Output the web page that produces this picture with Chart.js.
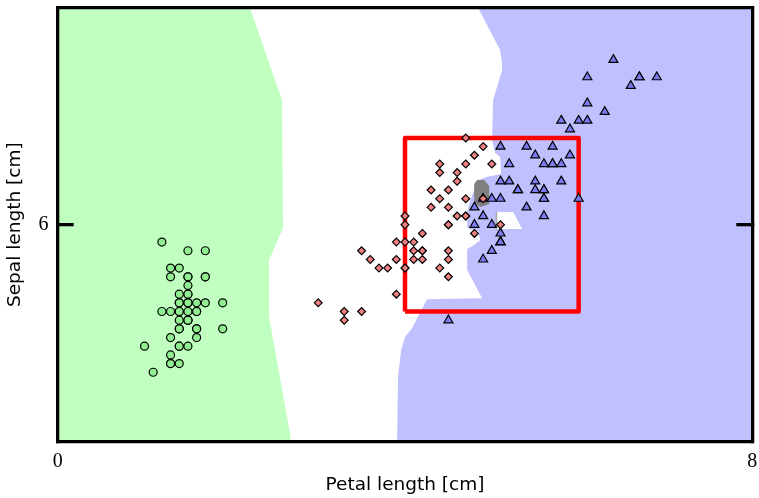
<!DOCTYPE html>
<html>
<head>
<meta charset="utf-8">
<script src="https://cdn.jsdelivr.net/npm/chart.js@4.4.1/dist/chart.umd.min.js"></script>
<style>
  html, body { margin: 0; padding: 0; background: #fff; }
</style>
</head>
<body>
<canvas id="irisChart" width="759" height="498"></canvas>
<script>
// Iris: petal length (x) against sepal length (y), cm
const setosaPetal = [1.4,1.4,1.3,1.5,1.4,1.7,1.4,1.5,1.4,1.5,1.5,1.6,1.4,1.1,1.2,1.5,1.3,1.4,1.7,1.5,1.7,1.5,1.0,1.7,1.9,1.6,1.6,1.5,1.4,1.6,1.6,1.5,1.5,1.4,1.5,1.2,1.3,1.5,1.3,1.5,1.3,1.3,1.3,1.6,1.9,1.4,1.6,1.4,1.5,1.4];
const setosaSepal = [5.1,4.9,4.7,4.6,5.0,5.4,4.6,5.0,4.4,4.9,5.4,4.8,4.8,4.3,5.8,5.7,5.4,5.1,5.7,5.1,5.4,5.1,4.6,5.1,4.8,5.0,5.0,5.2,5.2,4.7,4.8,5.4,5.2,5.5,4.9,5.0,5.5,4.9,4.4,5.1,5.0,4.5,4.4,5.0,5.1,4.8,5.1,4.6,5.3,5.0];

const versicolorPetal = [4.7,4.5,4.9,4.0,4.6,4.5,4.7,3.3,4.6,3.9,3.5,4.2,4.0,4.7,3.6,4.4,4.5,4.1,4.5,3.9,4.8,4.0,4.9,4.7,4.3,4.4,4.8,5.0,4.5,3.5,3.8,3.7,3.9,5.1,4.5,4.5,4.7,4.4,4.1,4.0,4.4,4.6,4.0,3.3,4.2,4.2,4.2,4.3,3.0,4.1];
const versicolorSepal = [7.0,6.4,6.9,5.5,6.5,5.7,6.3,4.9,6.6,5.2,5.0,5.9,6.0,6.1,5.6,6.7,5.6,5.8,6.2,5.6,5.9,6.1,6.3,6.1,6.4,6.6,6.8,6.7,6.0,5.7,5.5,5.5,5.8,6.0,5.4,6.0,6.7,6.3,5.6,5.5,5.5,6.1,5.8,5.0,5.6,5.7,5.7,6.2,5.1,5.7];

const virginicaPetal = [6.0,5.1,5.9,5.6,5.8,6.6,4.5,6.3,5.8,6.1,5.1,5.3,5.5,5.0,5.1,5.3,5.5,6.7,6.9,5.0,5.7,4.9,6.7,4.9,5.7,6.0,4.8,4.9,5.6,5.8,6.1,6.4,5.6,5.1,5.6,6.1,5.6,5.5,4.8,5.4,5.6,5.1,5.1,5.9,5.7,5.2,5.0,5.2,5.4,5.1];
const virginicaSepal = [6.3,5.8,7.1,6.3,6.5,7.6,4.9,7.3,6.7,7.2,6.5,6.4,6.8,5.7,5.8,6.4,6.5,7.7,7.7,6.0,6.9,5.6,7.7,6.3,6.7,7.2,6.2,6.1,6.4,7.2,7.4,7.9,6.4,6.3,6.1,7.7,6.3,6.4,6.0,6.9,6.7,6.9,5.8,6.8,6.7,6.7,6.3,6.5,6.2,5.9];

// decision regions, outlines (data units)
const greenRegionX = [0, 0, 2.215, 2.583, 2.595, 2.434, 2.434, 2.675, 2.687];
const greenRegionY = [3.5, 8.5, 8.5, 7.436, 5.962, 5.593, 4.937, 3.600, 3.5];

const blueRegionX = [3.909, 3.920, 3.955, 4.000, 4.081, 4.254, 4.888, 4.716, 4.716, 4.796, 4.865, 4.842, 4.750, 4.716, 4.716, 4.750, 4.796, 4.819, 4.934, 5.107, 5.096, 5.038, 5.003, 5.015, 5.118, 5.118, 5.095, 4.842, 8, 8];
const blueRegionY = [3.5, 4.244, 4.555, 4.705, 4.808, 5.142, 5.154, 5.477, 5.719, 5.765, 5.822, 5.926, 5.949, 5.972, 6.145, 6.283, 6.398, 6.504, 6.550, 6.584, 6.780, 6.826, 6.976, 7.436, 7.782, 7.874, 8.013, 8.5, 8.5, 3.5];

const notchX = [5.061, 5.061, 5.246, 5.349];
const notchY = [5.950, 6.146, 6.146, 5.950];

const grayPatchX = [4.797, 4.797, 4.831, 4.912, 4.970, 4.970, 4.866];
const grayPatchY = [6.262, 6.469, 6.515, 6.515, 6.446, 6.238, 6.204];

const graySliverX = [5.044, 5.044, 5.061, 5.061];
const graySliverY = [5.938, 6.146, 6.146, 5.938];

// zoom box
const boxX = [4, 4, 6, 6, 4];
const boxY = [5, 7, 7, 5, 5];

const xTicks = [0, 8];
const yTicks = [6];

const pts = (xs, ys) => xs.map((x, i) => ({ x: x, y: ys[i] }));

function region(xs, ys, color, order) {
  return {
    data: pts(xs, ys),
    showLine: true,
    fill: "shape",
    backgroundColor: color,
    borderColor: color,
    borderWidth: 0,
    pointRadius: 0,
    order: order,
  };
}

function markers(xs, ys, style, radius, color) {
  return {
    data: pts(xs, ys),
    pointStyle: style,
    pointRadius: radius,
    backgroundColor: color,
    borderColor: "#000",
    borderWidth: 1.2,
    order: 0,
  };
}

const tickFont = { family: "'Liberation Serif', serif", size: 20 };
const titleFont = { family: "'DejaVu Sans', sans-serif", size: 18.5 };
const frame = { display: true, color: "#000", width: 3.3, z: 1 };

new Chart(document.getElementById("irisChart"), {
  type: "scatter",
  data: {
    datasets: [
      region(greenRegionX, greenRegionY, "#c0ffc0", 10),
      region(blueRegionX, blueRegionY, "#c0c0ff", 9),
      region(notchX, notchY, "#ffffff", 8),
      region(grayPatchX, grayPatchY, "#7f7f7f", 7),
      region(graySliverX, graySliverY, "#a8a8a8", 7),
      {
        data: pts(boxX, boxY),
        showLine: true,
        fill: false,
        borderColor: "#ff0000",
        borderWidth: 4.5,
        borderJoinStyle: "round",
        pointRadius: 0,
        order: 5,
      },
      markers(setosaPetal, setosaSepal, "circle", 4, "#90ee90"),
      markers(versicolorPetal, versicolorSepal, "rectRot", 3.9, "#f08080"),
      markers(virginicaPetal, virginicaSepal, "triangle", 5.2, "#7b7bf2"),
    ],
  },
  options: {
    responsive: false,
    devicePixelRatio: 1,
    animation: false,
    events: [],
    layout: { padding: 0 },
    plugins: { legend: { display: false }, tooltip: { enabled: false } },
    scales: {
      x: {
        type: "linear",
        position: "bottom",
        min: 0,
        max: 8,
        afterBuildTicks: (s) => { s.ticks = xTicks.map((v) => ({ value: v })); },
        afterFit: (s) => { s.height = 56.3; s.paddingLeft = 0; s.paddingRight = 0; },
        grid: { display: false, drawTicks: false },
        border: frame,
        ticks: { color: "#000", font: tickFont, padding: 8, maxRotation: 0, autoSkip: false },
        title: { display: true, text: "Petal length [cm]", color: "#000", font: titleFont, padding: { top: 0, bottom: 1.4 } },
      },
      x2: {
        type: "linear",
        axis: "x",
        position: "top",
        min: 0,
        max: 8,
        afterFit: (s) => { s.height = 7.7; s.paddingLeft = 0; s.paddingRight = 0; },
        grid: { display: false, drawTicks: false },
        border: frame,
        ticks: { display: false },
      },
      y: {
        type: "linear",
        position: "left",
        min: 3.5,
        max: 8.5,
        afterBuildTicks: (s) => { s.ticks = yTicks.map((v) => ({ value: v })); },
        afterFit: (s) => { s.width = 57.7; s.paddingTop = 0; s.paddingBottom = 0; },
        // tick marks point into the plot
        grid: { drawOnChartArea: false, color: "#000", lineWidth: 3.3, tickLength: -16, z: 1 },
        border: frame,
        ticks: { color: "#000", font: tickFont, padding: 25.2, autoSkip: false },
        title: { display: true, text: "Sepal length [cm]", color: "#000", font: titleFont, padding: { top: 4, bottom: 0 } },
      },
      y2: {
        type: "linear",
        axis: "y",
        position: "right",
        min: 3.5,
        max: 8.5,
        afterBuildTicks: (s) => { s.ticks = yTicks.map((v) => ({ value: v })); },
        afterFit: (s) => { s.width = 6.7; s.paddingTop = 0; s.paddingBottom = 0; },
        grid: { drawOnChartArea: false, color: "#000", lineWidth: 3.3, tickLength: -16, z: 1 },
        border: frame,
        ticks: { display: false },
      },
    },
  },
});
</script>
</body>
</html>
